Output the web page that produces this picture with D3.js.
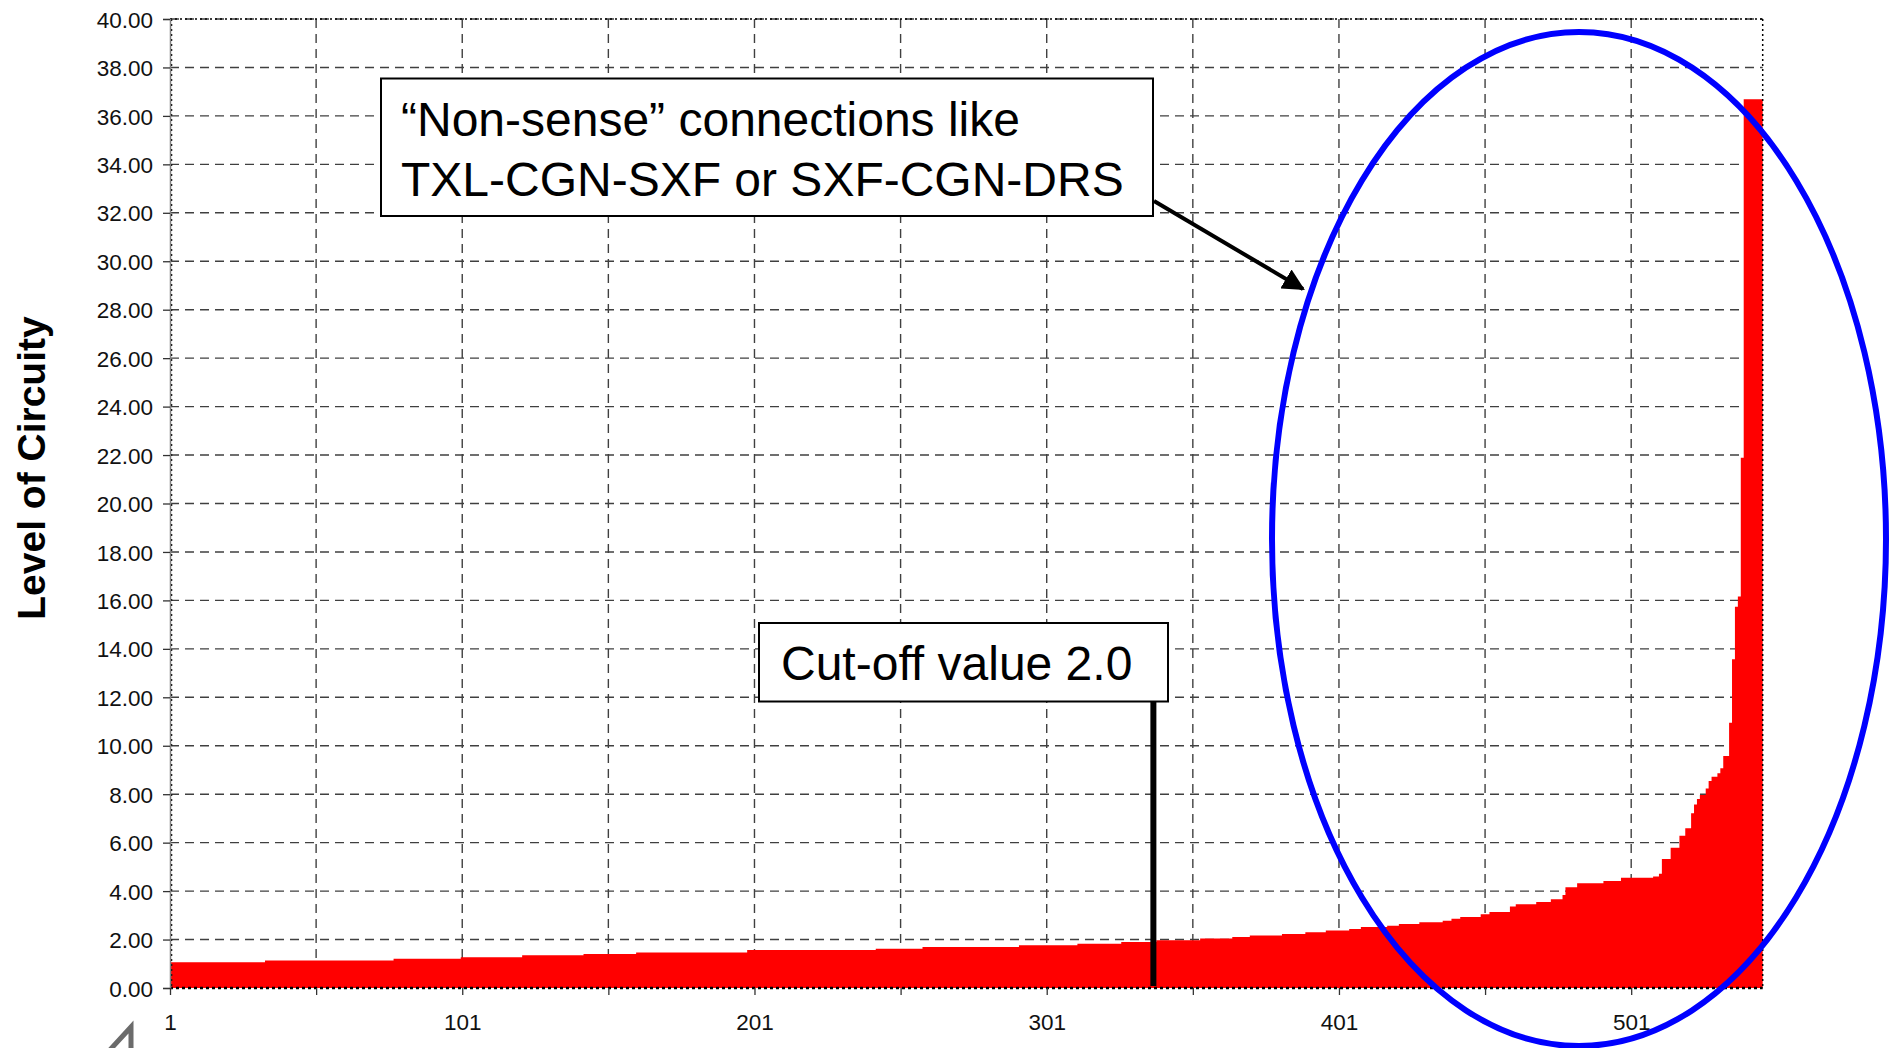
<!DOCTYPE html>
<html>
<head>
<meta charset="utf-8">
<script src="https://cdn.jsdelivr.net/npm/d3@7"></script>
<style>
  html, body { margin: 0; padding: 0; background: #fff; }
  svg { display: block; font-family: "Liberation Sans", Arial, sans-serif; }
</style>
</head>
<body>
<svg id="chart" width="1889" height="1048"></svg>
<script>
// ---- data (sorted level of circuity, stored as runs of equal values) ----
const levelValues = [1.06,1.14,1.21,1.27,1.35,1.40,1.47,1.57,1.62,1.69,1.76,1.83,1.90,1.97,2.04,2.11,2.17,2.23,2.30,2.37,2.44,2.52,2.57,2.64,2.71,2.78,2.86,2.93,3.04,3.14,3.36,3.46,3.55,3.66,3.84,4.16,4.32,4.42,4.55,4.60,4.72,5.33,5.79,6.28,6.59,7.21,7.58,7.80,7.97,8.24,8.55,8.72,8.86,9.07,9.58,10.95,13.57,15.74,16.16,21.89,36.69];
const levelCounts = [33,44,23,21,21,18,38,44,16,33,20,15,12,15,11,6,11,8,7,8,4,9,4,7,8,3,3,7,3,7,2,7,5,4,1,4,9,6,11,2,1,3,3,2,2,1,1,1,2,1,1,2,1,1,2,1,1,1,1,1,7];
const yTicks = [0,2,4,6,8,10,12,14,16,18,20,22,24,26,28,30,32,34,36,38,40];
const xTickCats = [1,51,101,151,201,251,301,351,401,451,501];
const xLabelCats = [1,101,201,301,401,501];
const yTitle = "Level of Circuity";
const note1 = ["\u201CNon-sense\u201D connections like", "TXL-CGN-SXF or SXF-CGN-DRS"];
const note2 = "Cut-off value 2.0";
const cutoffCategory = 337.5;

// expand runs into one value per connection
const values = [];
levelValues.forEach((v, i) => { for (let k = 0; k < levelCounts[i]; k++) values.push(v); });
const N = values.length;

// ---- layout ----
const L = 170, R = 1762.7, T = 19, B = 988;
const svg = d3.select("#chart");
const x = d3.scaleLinear().domain([1, N]).range([L, R]);
const y = d3.scaleLinear().domain([0, 40]).range([B, T]);

// gridlines
const grid = svg.append("g").attr("stroke", "#404040").attr("stroke-width", 1.4).attr("stroke-dasharray", "9,6");
grid.selectAll("line.h").data(yTicks.filter(d => d > 0)).join("line")
  .attr("x1", L).attr("x2", R).attr("y1", d => y(d)).attr("y2", d => y(d));
grid.selectAll("line.v").data(xTickCats.filter(d => d > 1)).join("line")
  .attr("x1", d => x(d)).attr("x2", d => x(d)).attr("y1", T).attr("y2", B);

// area (step columns)
const area = d3.area()
  .x((d, i) => x(i + 1))
  .y0(y(0))
  .y1(d => y(d))
  .curve(d3.curveStep);
svg.append("path").datum(values).attr("d", area).attr("fill", "#ff0000");

// plot border (dotted)
svg.append("line").attr("x1", L).attr("x2", R).attr("y1", T).attr("y2", T)
  .attr("stroke", "#000").attr("stroke-width", 1.5).attr("stroke-dasharray", "2,3");
svg.append("line").attr("x1", R).attr("x2", R).attr("y1", T).attr("y2", B)
  .attr("stroke", "#000").attr("stroke-width", 1.5).attr("stroke-dasharray", "2,3");
svg.append("line").attr("x1", L).attr("x2", R).attr("y1", B).attr("y2", B)
  .attr("stroke", "#000").attr("stroke-width", 2.5).attr("stroke-dasharray", "3,3");
svg.append("line").attr("x1", L + 1.5).attr("x2", L + 1.5).attr("y1", T).attr("y2", B)
  .attr("stroke", "#000").attr("stroke-width", 1.5).attr("stroke-dasharray", "2,3");

// y axis
const yAxis = svg.append("g").attr("transform", `translate(${L},0)`)
  .call(d3.axisLeft(y).tickValues(yTicks).tickFormat(d3.format(".2f")).tickSize(7).tickPadding(10));
yAxis.select(".domain").attr("stroke", "#808080").attr("stroke-width", 1.5);
yAxis.selectAll(".tick line").attr("stroke", "#333").attr("stroke-width", 1.3);
yAxis.selectAll(".tick text").attr("font-size", 22.5).attr("fill", "#111")
  .attr("dy", "0.36em").style("font-family", "'Liberation Sans', Arial, sans-serif");

// x axis
const xAxis = svg.append("g").attr("transform", `translate(0,${B})`)
  .call(d3.axisBottom(x).tickValues(xTickCats)
    .tickFormat(d => xLabelCats.includes(d) ? String(d) : "").tickSize(7).tickPadding(19));
xAxis.select(".domain").remove();
xAxis.selectAll(".tick line").attr("stroke", "#333").attr("stroke-width", 1.3);
xAxis.selectAll(".tick text").attr("font-size", 22.5).attr("fill", "#111")
  .style("font-family", "'Liberation Sans', Arial, sans-serif");

// y title
svg.append("text").attr("transform", "translate(44.5,468) rotate(-90)")
  .attr("text-anchor", "middle").attr("font-size", 39).attr("font-weight", "bold")
  .attr("fill", "#000").text(yTitle);

// cut-off marker line
const cx = x(cutoffCategory);
svg.append("line").attr("x1", cx).attr("x2", cx).attr("y1", 701).attr("y2", 986)
  .attr("stroke", "#000").attr("stroke-width", 6);

// annotation box 2
svg.append("rect").attr("x", 759).attr("y", 623).attr("width", 409).attr("height", 78.5)
  .attr("fill", "#fff").attr("stroke", "#000").attr("stroke-width", 2);
svg.append("text").attr("x", 781).attr("y", 680).attr("font-size", 48).attr("fill", "#000").text(note2);

// annotation box 1
svg.append("rect").attr("x", 381).attr("y", 78.5).attr("width", 772).attr("height", 137.5)
  .attr("fill", "#fff").attr("stroke", "#000").attr("stroke-width", 2);
svg.append("text").attr("x", 401).attr("y", 136).attr("font-size", 48).attr("fill", "#000").text(note1[0]);
svg.append("text").attr("x", 401).attr("y", 196).attr("font-size", 48).attr("fill", "#000").text(note1[1]);

// arrow
const defs = svg.append("defs");
defs.append("marker").attr("id", "arrowhead").attr("viewBox", "0 0 10 10")
  .attr("refX", 9).attr("refY", 5).attr("markerWidth", 5.5).attr("markerHeight", 5.5)
  .attr("orient", "auto").attr("markerUnits", "strokeWidth")
  .append("path").attr("d", "M0,0 L10,5 L0,10 z").attr("fill", "#000");
svg.append("line").attr("x1", 1154).attr("y1", 201).attr("x2", 1303).attr("y2", 289)
  .attr("stroke", "#000").attr("stroke-width", 4).attr("marker-end", "url(#arrowhead)");

// highlight ellipse
svg.append("ellipse").attr("cx", 1579).attr("cy", 539).attr("rx", 307).attr("ry", 507)
  .attr("fill", "none").attr("stroke", "#0000ff").attr("stroke-width", 6);

// partial gray shape at bottom left
svg.append("path").attr("d", "M108,1052 L131,1027 L131,1052")
  .attr("fill", "none").attr("stroke", "#6b6b6b").attr("stroke-width", 5);
</script>
</body>
</html>
